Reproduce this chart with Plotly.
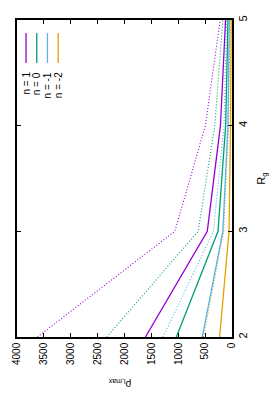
import plotly.graph_objects as go

# Data (R_g on the vertical axis, rho_l,max on the horizontal axis; chart drawn rotated)
rg = [2, 3, 4, 5]
labels = ["n = 1", "n = 0", "n = -1", "n = -2"]
colors = ["#9400d3", "#009e73", "#56b4e9", "#e69f00"]
solid_n1 = [1610, 460, 215, 120]
solid_n0 = [1035, 260, 118, 75]
solid_nm1 = [553, 170, 76, 50]
solid_nm2 = [230, 55, 27, 15]
dot_n1 = [3620, 1065, 495, 220]
dot_n0 = [2330, 630, 320, 170]
dot_nm1 = [1285, 345, 150, 100]
dot_nm2 = [530, 155, 64, 40]
rho_ticks = [0, 500, 1000, 1500, 2000, 2500, 3000, 3500, 4000]
rg_ticks = [2, 3, 4, 5]

solid = [solid_n1, solid_n0, solid_nm1, solid_nm2]
dotted = [dot_n1, dot_n0, dot_nm1, dot_nm2]

FONT = "Liberation Sans, Arial, sans-serif"

fig = go.Figure()
for vals, c in zip(dotted, colors):
    fig.add_trace(go.Scatter(x=vals, y=rg, mode="lines",
                             line=dict(color=c, width=1.1, dash="1px,2px"),
                             showlegend=False))
for vals, c in zip(solid, colors):
    fig.add_trace(go.Scatter(x=vals, y=rg, mode="lines",
                             line=dict(color=c, width=1.3),
                             showlegend=False))

# page body has an 8px margin; compensate so the plot box lands where the reference has it
BODY = 8
W, H = 279 - BODY, 399 - BODY
PL, PT, PR, PB = 11, 20, 232, 337          # plot box in window pixels
ml, mt = PL - BODY, PT - BODY
mr, mb = 279 - PR, 399 - PB
pw, ph = PR - PL, PB - PT

def px_x(x):
    return (x - PL) / pw

def px_y(y):
    return (PB - y) / ph

shapes = []
annotations = []
leg_x = [20.3, 31.3, 42.3, 53.3]
for lx, lab, c in zip(leg_x, labels, colors):
    shapes.append(dict(type="line", xref="paper", yref="paper",
                       x0=px_x(lx), x1=px_x(lx), y0=px_y(33), y1=px_y(63),
                       line=dict(color=c, width=1.3)))
    annotations.append(dict(text=lab, xref="paper", yref="paper",
                            x=px_x(lx), y=px_y(70), xanchor="center", yanchor="top",
                            textangle=-90, showarrow=False,
                            font=dict(family=FONT, size=10, color="black")))

annotations.append(dict(text="R<sub>g</sub>", xref="paper", yref="paper",
                        x=px_x(262), y=0.5, xanchor="center", yanchor="middle",
                        textangle=-90, showarrow=False,
                        font=dict(family=FONT, size=11, color="black")))
annotations.append(dict(text="ρ<sub>l,max</sub>", xref="paper", yref="paper",
                        x=px_x(117), y=px_y(384), xanchor="center", yanchor="middle",
                        textangle=180, showarrow=False,
                        font=dict(family=FONT, size=10, color="black")))

fig.update_layout(
    width=W, height=H,
    margin=dict(l=ml, r=mr, t=mt, b=mb, pad=0),
    paper_bgcolor="white", plot_bgcolor="white",
    font=dict(family=FONT, size=10, color="black"),
    shapes=shapes, annotations=annotations,
    xaxis=dict(range=[4000, 0], tickvals=rho_ticks, ticks="inside", ticklen=4,
               tickwidth=1, tickcolor="black", tickangle=-90,
               showline=True, linecolor="black", linewidth=1.5, mirror="ticks",
               showgrid=False, zeroline=False, ticklabelstandoff=0,
               ticklabeloverflow="allow",
               tickfont=dict(family=FONT, size=10, color="black")),
    yaxis=dict(range=[2, 5], tickvals=rg_ticks, side="right", ticks="inside", ticklen=4,
               tickwidth=1, tickcolor="black", tickangle=-90,
               showline=True, linecolor="black", linewidth=1.5, mirror="ticks",
               showgrid=False, zeroline=False, ticklabelstandoff=0,
               ticklabeloverflow="allow",
               tickfont=dict(family=FONT, size=11, color="black")),
)

fig.write_html("out.html")
